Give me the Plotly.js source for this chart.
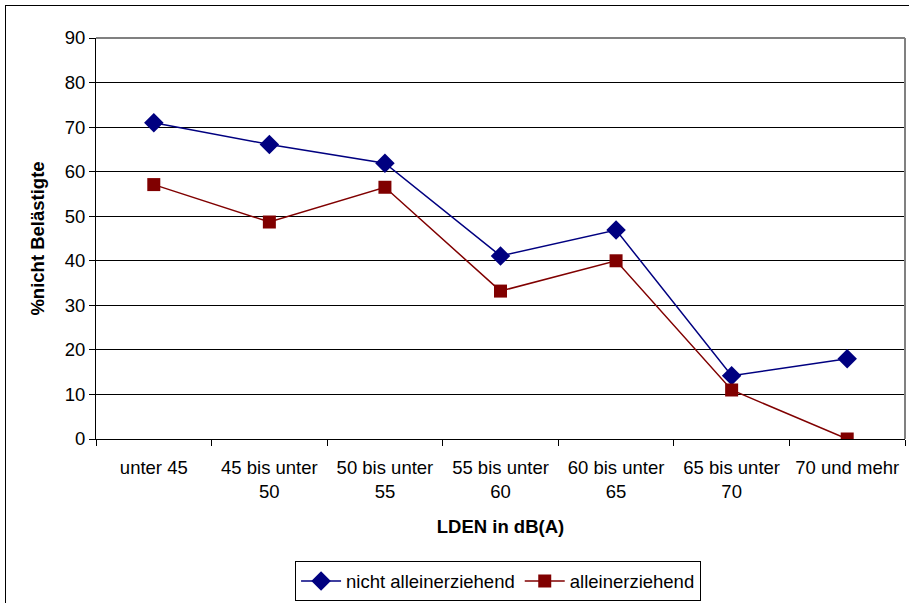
<!DOCTYPE html>
<html>
<head>
<meta charset="utf-8">
<script src="https://cdn.plot.ly/plotly-3.0.1.min.js"></script>
<style>
html,body{margin:0;padding:0;background:#fff;}
#frame{position:absolute;left:5px;top:5px;width:920px;height:620px;border:1px solid #000;box-sizing:border-box;}
#chart{position:absolute;left:0;top:0;width:909px;height:603px;}
</style>
</head>
<body>
<div id="frame"></div>
<div id="chart"></div>
<script>
const categories = ["unter 45", "45 bis unter<br>50", "50 bis unter<br>55", "55 bis unter<br>60", "60 bis unter<br>65", "65 bis unter<br>70", "70 und mehr"];
const nichtAlleinerziehend = [71, 66.1, 61.9, 41.1, 46.9, 14.2, 18.0];
const alleinerziehend = [57.1, 48.7, 56.5, 33.2, 40.0, 11.0, 0];
const yTicks = [0, 10, 20, 30, 40, 50, 60, 70, 80, 90];

const fam = "Liberation Sans, Arial, sans-serif";
const fs = 18.5;
const font = {family: fam, size: fs, color: "#000"};

const traces = [
  {x: categories, y: nichtAlleinerziehend, name: "nicht alleinerziehend", type: "scatter", mode: "lines+markers",
   line: {color: "#000080", width: 1.5}, marker: {symbol: "diamond", size: 15, color: "#000080"}},
  {x: categories, y: alleinerziehend, name: "alleinerziehend", type: "scatter", mode: "lines+markers",
   line: {color: "#800000", width: 1.5}, marker: {symbol: "square", size: 13, color: "#800000"}}
];

const layout = {
  width: 909, height: 603,
  margin: {l: 96, r: 4, t: 38, b: 164},
  paper_bgcolor: "rgba(0,0,0,0)", plot_bgcolor: "#fff",
  font: font,
  showlegend: true,
  legend: {orientation: "h", x: 0.497, xanchor: "center", xref: "paper",
           yref: "container", y: 0.069, yanchor: "top",
           bordercolor: "#000", borderwidth: 1, font: font,
           itemwidth: 40, tracegroupgap: 0},
  xaxis: {type: "category", tickson: "boundaries", ticks: "outside", ticklen: 6, tickcolor: "#000",
          showline: true, linecolor: "#000", linewidth: 1, showgrid: false, zeroline: false,
          tickfont: font, ticklabelstandoff: 12, automargin: false,
          title: {text: "<b>LDEN in dB(A)</b>", font: font, standoff: 18},
          range: [-0.5, 6.5], fixedrange: true},
  yaxis: {range: [0, 90], tickvals: yTicks, ticks: "outside", ticklen: 6, tickcolor: "#000",
          showline: true, linecolor: "#000", linewidth: 1, showgrid: true, gridcolor: "#000", gridwidth: 1,
          zeroline: false, tickfont: font, automargin: false,
          title: {text: "<b>%nicht Belästigte</b>", font: font, standoff: 15}},
  shapes: [
    {type: "line", xref: "paper", yref: "paper", x0: 0, x1: 1, y0: 1, y1: 1, line: {color: "#808080", width: 2}},
    {type: "line", xref: "paper", yref: "paper", x0: 1, x1: 1, y0: 0, y1: 1, line: {color: "#808080", width: 2}}
  ]
};

Plotly.newPlot("chart", traces, layout, {displayModeBar: false, staticPlot: true});
</script>
</body>
</html>
